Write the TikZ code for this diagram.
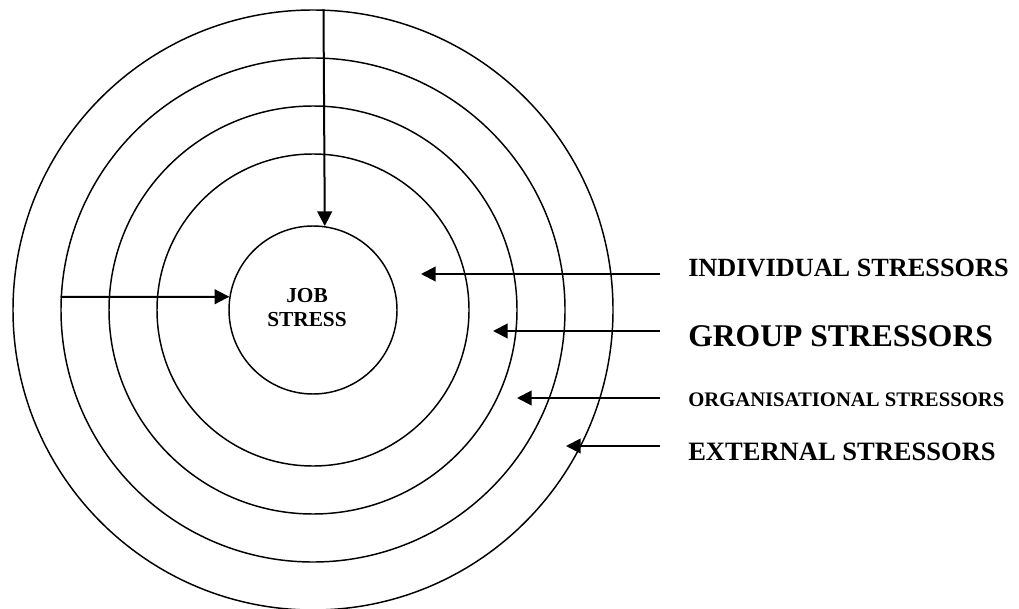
\documentclass[tikz,border=0pt]{standalone}
\usepackage{fontspec}
\setmainfont{Liberation Serif}
\usetikzlibrary{arrows.meta,positioning}

\tikzset{
  ring/.style={draw, circle, line width=1.1pt, inner sep=0pt},
  arr/.style={line width=1.5pt, -{Triangle[length=11pt,width=11pt]}},
  stressor/.style={anchor=west, inner sep=0pt, font=\bfseries}
}

\begin{document}
\begin{tikzpicture}[x=0.75pt, y=-0.75pt]
  \useasboundingbox (0,0) rectangle (1019,609);
  \coordinate (C) at (313,310);

  % the four rings, outermost first
  \node[ring, minimum size=450pt] (external) at (C) {};
  \node[ring, minimum size=378pt] (organisational) at (C) {};
  \node[ring, minimum size=306pt] (group) at (C) {};
  \node[ring, minimum size=234pt] (individual) at (C) {};

  % centre circle
  \node[ring, minimum size=126pt] (job) at (C) {};
  \node[align=center, font=\bfseries\fontsize{16}{18}\selectfont] (jobtxt) at (307,308) {JOB\\STRESS};

  % arrows into the centre
  \draw[arr] (external.88) -- (job.82.5);
  \draw[arr] (organisational.177.3) -- (job.171.8);

  % labels on the right
  \node[stressor, font=\bfseries\fontsize{19.7}{22}\selectfont] (indlab) at (688,268) {INDIVIDUAL STRESSORS};
  \node[stressor, font=\bfseries\fontsize{23.7}{26}\selectfont] (grplab) at (688,336) {GROUP STRESSORS};
  \node[stressor, font=\bfseries\fontsize{15.5}{17}\selectfont] (orglab) at (688,400) {ORGANISATIONAL STRESSORS};
  \node[stressor, font=\bfseries\fontsize{19.9}{22}\selectfont] (extlab) at (688,452) {EXTERNAL STRESSORS};

  \coordinate (indtail) at (660,274);
  \coordinate (indhead) at (421,274);
  \coordinate (grptail) at (660,331);
  \coordinate (grphead) at (493,331);
  \coordinate (orgtail) at (660,398);
  \coordinate (orghead) at (517,398);
  \coordinate (exttail) at (660,446);
  \coordinate (exthead) at (566,446);

  \draw[arr] (indtail) -- (indhead);
  \draw[arr] (grptail) -- (grphead);
  \draw[arr] (orgtail) -- (orghead);
  \draw[arr] (exttail) -- (exthead);
\end{tikzpicture}
\end{document}
